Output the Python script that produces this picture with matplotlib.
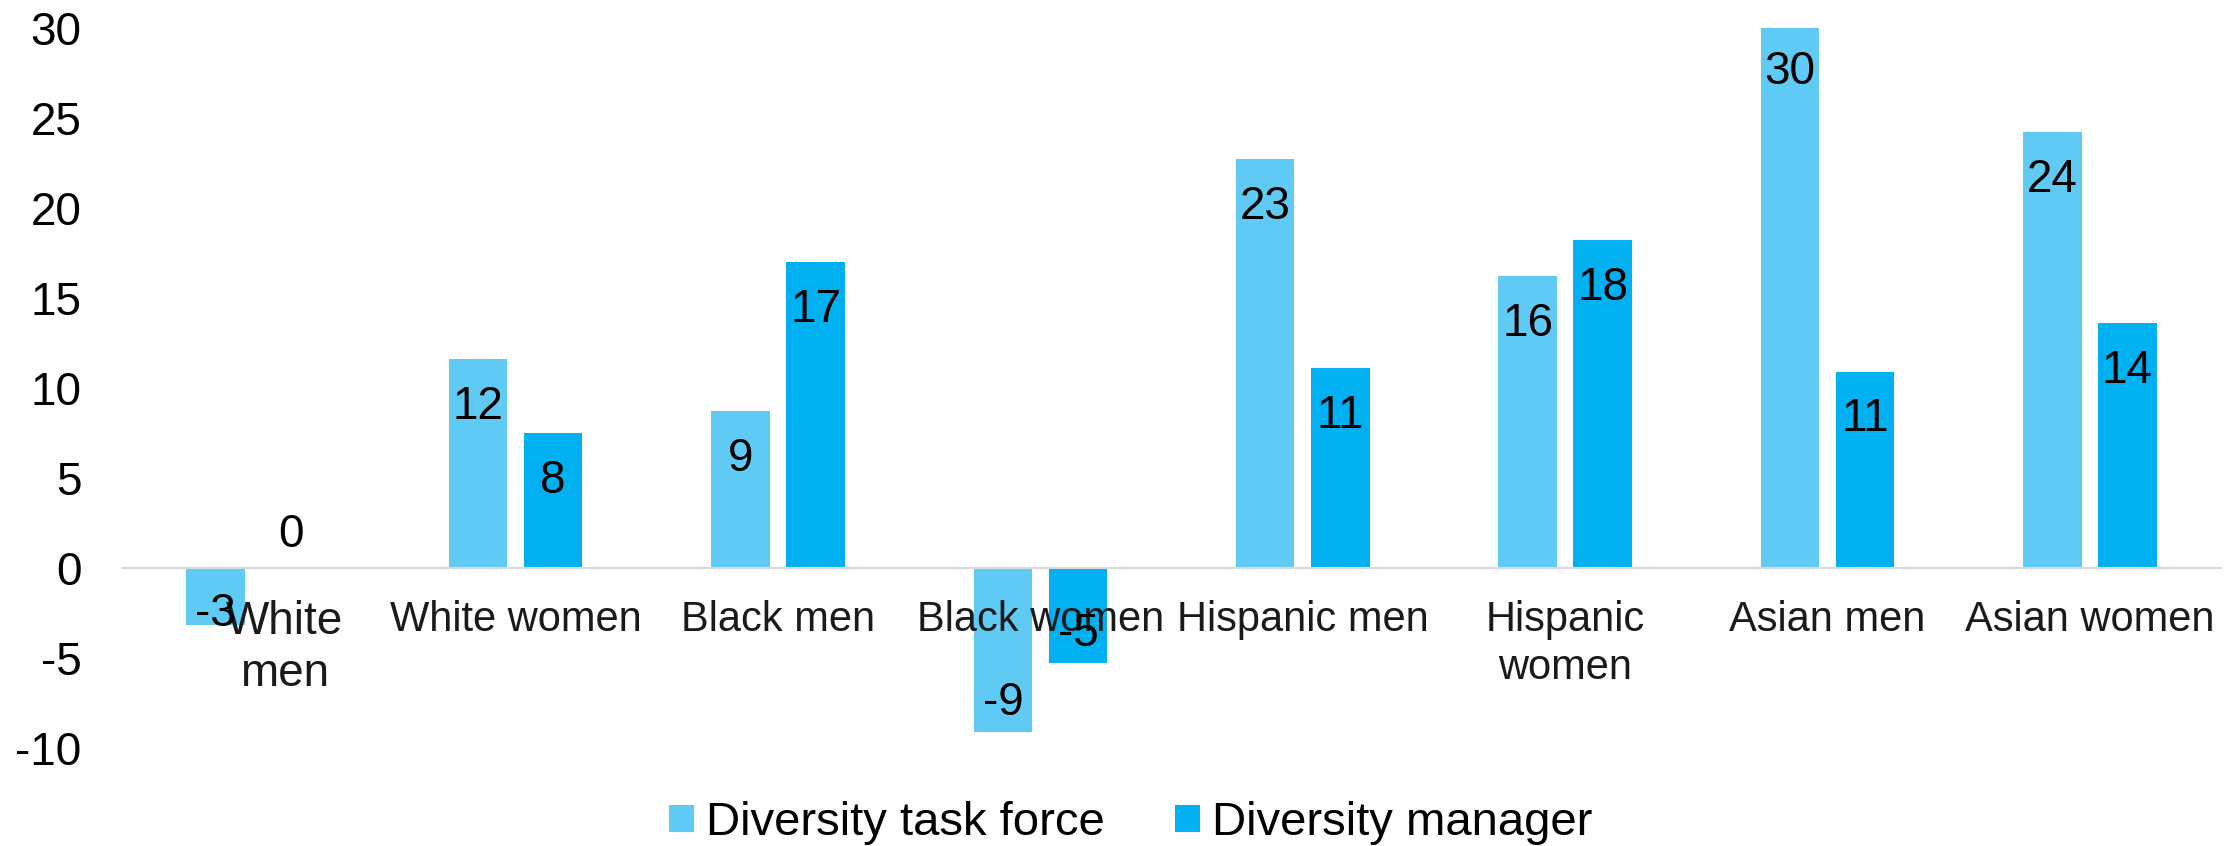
import numpy as np
import matplotlib.pyplot as plt
from matplotlib.transforms import ScaledTranslation

plt.rcParams['font.family'] = ['Liberation Sans', 'DejaVu Sans']
plt.rcParams['axes.unicode_minus'] = False

categories = ['White\nmen', 'White women', 'Black men', 'Black women',
              'Hispanic men', 'Hispanic\nwomen', 'Asian men', 'Asian women']
task_force = [-3.2, 11.6, 8.7, -9.1, 22.7, 16.2, 30.2, 24.2]
manager = [0.0, 7.5, 17.0, -5.3, 11.1, 18.2, 10.9, 13.6]
series_names = ['Diversity task force', 'Diversity manager']

c_light = '#5FCBF4'
c_dark = '#00B0F0'

fig = plt.figure(figsize=(22.39, 8.46), dpi=100)
ax = fig.add_axes([0.0545, 0.116, 0.9375, 0.851])

x = np.arange(len(categories))
w = 0.223
off = 0.143
ax.bar(x - off, task_force, w, color=c_light, label=series_names[0], zorder=2)
ax.bar(x + off, manager, w, color=c_dark, label=series_names[1], zorder=2)


def label_y(v):
    # mimic Excel "inside end" labels
    if v == 0:
        return 1.8
    if v > 0:
        return v - 2.65
    return min(v + 1.6, -2.55)


for xs, vals in ((x - off, task_force), (x + off, manager)):
    for xi, v in zip(xs, vals):
        ax.text(xi, label_y(v), f'{round(v):d}', ha='center', va='center',
                fontsize=33, color='black', zorder=4)

ax.set_xlim(-0.5, len(categories) - 0.5)
ax.set_ylim(-10, 30)
ax.spines['bottom'].set_position(('data', 0))
ax.spines['bottom'].set_color('#D9D9D9')
ax.spines['bottom'].set_linewidth(1.5)
for s in ('top', 'right', 'left'):
    ax.spines[s].set_visible(False)

ax.set_yticks(range(-10, 31, 5))
ax.tick_params(axis='y', length=0, pad=29, labelsize=33)

ax.set_xticks(x)
ax.set_xticklabels(categories, linespacing=1.25)
ax.tick_params(axis='x', length=0, pad=23, labelsize=30, labelcolor='#1a1a1a')
ax.set_axisbelow(False)
ax.xaxis.set_zorder(3)

# first category label sits a bit right and larger in the original
first = ax.get_xticklabels()[0]
first.set_fontsize(33)
first.set_transform(first.get_transform() + ScaledTranslation(0.31, 0, fig.dpi_scale_trans))

fig.legend(loc='center', bbox_to_anchor=(0.505, 0.027), ncol=2, frameon=False,
           fontsize=34, handlelength=0.53, handleheight=0.53,
           handletextpad=0.25, columnspacing=1.5, borderpad=0)

fig.savefig('out.png', dpi=100)
